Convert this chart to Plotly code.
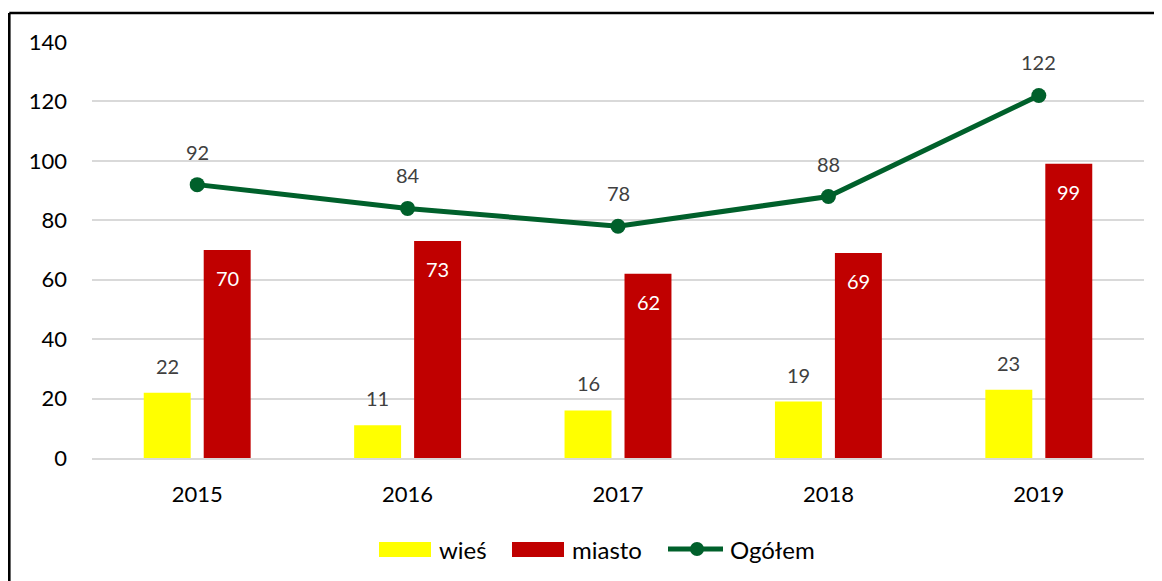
import plotly.graph_objects as go

years = ["2015", "2016", "2017", "2018", "2019"]
wies = [22, 11, 16, 19, 23]
miasto = [70, 73, 62, 69, 99]
ogolem = [92, 84, 78, 88, 122]
y_ticks = [0, 20, 40, 60, 80, 100, 120, 140]

YELLOW = "#FFFF00"
RED = "#C00000"
GREEN = "#00602B"
LABEL = "#404040"
FONT = "Lato"

fig = go.Figure()
fig.add_trace(go.Bar(x=years, y=wies, name="wieś", marker=dict(color=YELLOW, line=dict(width=0))))
fig.add_trace(go.Bar(x=years, y=miasto, name="miasto", marker=dict(color=RED, line=dict(width=0))))
fig.add_trace(go.Scatter(x=years, y=ogolem, name="Ogółem", mode="lines+markers",
                         line=dict(color=GREEN, width=5),
                         marker=dict(color=GREEN, size=15)))

annotations = []
for i, yr in enumerate(years):
    annotations.append(dict(x=i, y=wies[i], xref="x", yref="y", text=str(wies[i]), showarrow=False,
                            xshift=-30, yshift=27, font=dict(family=FONT, size=20, color=LABEL)))
    annotations.append(dict(x=i, y=miasto[i], xref="x", yref="y", text=str(miasto[i]), showarrow=False,
                            xshift=30, yshift=-28, font=dict(family=FONT, size=20, color="white")))
    annotations.append(dict(x=i, y=ogolem[i], xref="x", yref="y", text=str(ogolem[i]), showarrow=False,
                            yshift=33, font=dict(family=FONT, size=20, color=LABEL)))

# custom legend (coordinates relative to plot area: left 92, bottom 458 on screen)
W, H = 1052.0, 416.0
def px(x):
    return (x - 92) / W
def py(y):
    return (458 - y) / H

shapes = [
    dict(type="rect", xref="paper", yref="paper", x0=px(379), x1=px(431), y0=py(557), y1=py(542),
         fillcolor=YELLOW, line=dict(width=0)),
    dict(type="rect", xref="paper", yref="paper", x0=px(512), x1=px(564), y0=py(557), y1=py(542),
         fillcolor=RED, line=dict(width=0)),
    dict(type="line", xref="paper", yref="paper", x0=px(668), x1=px(723), y0=py(549), y1=py(549),
         line=dict(color=GREEN, width=5)),
    dict(type="circle", xref="paper", yref="paper", x0=px(690), x1=px(704), y0=py(556), y1=py(542),
         fillcolor=GREEN, line=dict(width=0)),
    # chart border (top and left visible)
    dict(type="line", xref="paper", yref="paper", x0=px(9.3), x1=px(1170), y0=py(13), y1=py(13),
         line=dict(color="black", width=2.6)),
    dict(type="line", xref="paper", yref="paper", x0=px(9.3), x1=px(9.3), y0=py(13), y1=py(590),
         line=dict(color="black", width=2.6)),
]
for xpos, txt in [(437, "wieś"), (570, "miasto"), (728, "Ogółem")]:
    annotations.append(dict(x=px(xpos), y=py(549), xref="paper", yref="paper", text=txt, showarrow=False,
                            xanchor="left", yanchor="middle", font=dict(family=FONT, size=24, color="black")))

fig.update_layout(
    width=1154, height=573,
    margin=dict(l=84, r=18, t=34, b=123),
    paper_bgcolor="white", plot_bgcolor="white",
    barmode="group", bargap=0.43, bargroupgap=0.217,
    showlegend=False,
    annotations=annotations, shapes=shapes,
    font=dict(family=FONT, size=22, color="black"),
)
fig.update_xaxes(type="category", categoryorder="array", categoryarray=years, range=[-0.5, len(years) - 0.5],
                 autorange=False, showgrid=False, showline=True, linecolor="#D9D9D9", linewidth=2,
                 ticks="", ticklabelstandoff=16, tickfont=dict(family=FONT, size=22, color="black"))
fig.update_yaxes(range=[0, 140], autorange=False, tickvals=y_ticks, showgrid=True, gridcolor="#D9D9D9", gridwidth=2,
                 zeroline=False, showline=False, ticks="", ticklabelstandoff=24,
                 tickfont=dict(family=FONT, size=22, color="black"))

fig.write_html("out.html")
